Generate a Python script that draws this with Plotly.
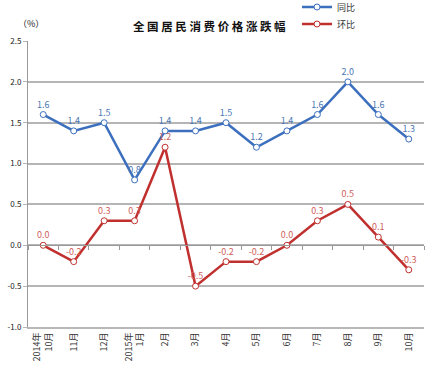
import plotly.graph_objects as go

categories = ["2014年<br>10月", "11月", "12月", "2015年<br>1月", "2月", "3月", "4月",
              "5月", "6月", "7月", "8月", "9月", "10月"]
yoy = [1.6, 1.4, 1.5, 0.8, 1.4, 1.4, 1.5, 1.2, 1.4, 1.6, 2.0, 1.6, 1.3]
mom = [0.0, -0.2, 0.3, 0.3, 1.2, -0.5, -0.2, -0.2, 0.0, 0.3, 0.5, 0.1, -0.3]
y_ticks = [-1.0, -0.5, 0.0, 0.5, 1.0, 1.5, 2.0, 2.5]

FONT = "Noto Sans CJK SC"
BLUE = "#3c6fbd"
RED = "#c0302e"
BLUE_T = "#4a78b4"
RED_T = "#d0605c"

W, H = 430, 366
ML, MR, MT, MB = 28, 6, 41, 39
PW, PH = W - ML - MR, H - MT - MB

def px_x(px):
    return (px - ML) / PW

def px_y(py):
    return (H - MB - py) / PH

xs = list(range(len(categories)))
ymin, ymax = -1.0, 2.5

fig = go.Figure()
fig.add_trace(go.Scatter(
    x=xs, y=yoy, name="同比", mode="lines+markers+text", legend="legend",
    line=dict(color=BLUE, width=2.5),
    marker=dict(symbol="circle", size=6, color="white", line=dict(color=BLUE, width=1)),
    text=[f"{v:.1f}" for v in yoy], textposition="top center",
    textfont=dict(color=BLUE_T, size=9, family=FONT), cliponaxis=False,
))
fig.add_trace(go.Scatter(
    x=xs, y=mom, name="环比", mode="lines+markers+text", legend="legend2",
    line=dict(color=RED, width=2.5),
    marker=dict(symbol="circle", size=6, color="white", line=dict(color=RED, width=1)),
    text=[f"{v:.1f}" for v in mom], textposition="top center",
    textfont=dict(color=RED_T, size=9, family=FONT), cliponaxis=False,
))
# invisible trace to hold zero-crossing category axis
fig.add_trace(go.Scatter(x=[xs[0]], y=[0], xaxis="x2", mode="markers",
                         marker=dict(opacity=0), showlegend=False, hoverinfo="skip"))

leg_common = dict(xanchor="left", yanchor="middle",
                  font=dict(size=9, family=FONT, color="#333"),
                  bgcolor="rgba(0,0,0,0)", itemwidth=30)

fig.update_layout(
    width=W, height=H,
    margin=dict(l=ML, r=MR, t=MT, b=MB, autoexpand=False),
    paper_bgcolor="white", plot_bgcolor="white",
    font=dict(family=FONT, size=9, color="#222"),
    xaxis=dict(
        range=[-0.5, len(categories) - 0.5],
        tickvals=xs, ticktext=categories, tickangle=-90,
        showgrid=False, zeroline=False, showline=True, linecolor="#b8b8b8", linewidth=2,
        ticks="", tickfont=dict(size=9, color="#333"), automargin=False,
    ),
    xaxis2=dict(
        overlaying="x", anchor="free", position=(0 - ymin) / (ymax - ymin),
        range=[-0.5, len(categories) - 0.5],
        tickvals=[i - 0.5 for i in range(len(categories) + 1)],
        ticks="outside", ticklen=4, tickcolor="#999", showticklabels=False,
        showgrid=False, zeroline=False, showline=True, linecolor="#999", linewidth=1,
    ),
    yaxis=dict(
        range=[ymin, ymax], tickvals=y_ticks, ticktext=[f"{v:.1f}" for v in y_ticks],
        showgrid=True, gridcolor="#b5b5b5", gridwidth=1.5, zeroline=False,
        showline=True, linecolor="#999", linewidth=1,
        ticks="outside", ticklen=4, tickcolor="#b5b5b5",
        tickfont=dict(size=8, color="#222"), automargin=False,
    ),
    legend=dict(x=px_x(297), y=px_y(7), **leg_common),
    legend2=dict(x=px_x(297), y=px_y(24), **leg_common),
    showlegend=True,
    annotations=[
        dict(text="<b>全 国 居 民 消 费 价 格 涨 跌 幅</b>", x=px_x(209), y=px_y(16),
             xref="paper", yref="paper", showarrow=False,
             font=dict(size=11.5, family=FONT, color="#111")),
        dict(text="（%）", x=px_x(16), y=px_y(15), xref="paper", yref="paper",
             showarrow=False, font=dict(size=9, family=FONT, color="#222")),
    ],
)

fig.write_html("out.html", config={"displayModeBar": False},
               post_script="document.body.style.margin='0';")
